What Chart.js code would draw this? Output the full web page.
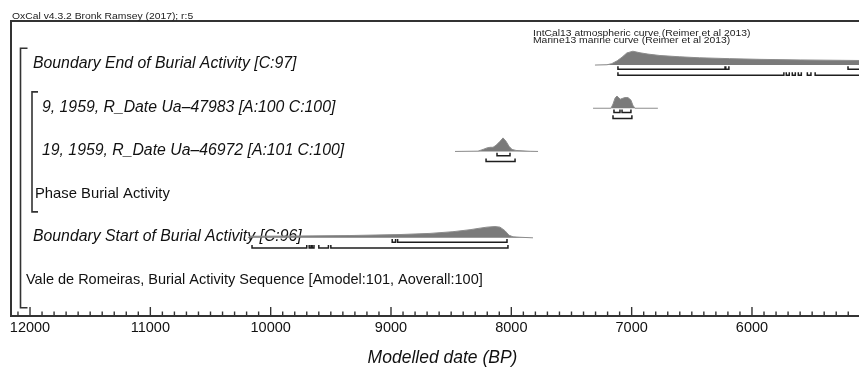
<!DOCTYPE html>
<html>
<head>
<meta charset="utf-8">
<script src="https://cdn.jsdelivr.net/npm/chart.js@4.4.1/dist/chart.umd.min.js"></script>
<style>
  html, body { margin: 0; padding: 0; background: #fff; overflow: hidden; }
</style>
</head>
<body>
<!-- the plot runs on past the right edge of the window -->
<canvas id="plot" width="874" height="378"></canvas>
<script>
"use strict";

// ---- model rows, top to bottom ----
const ROW_LABELS = [
  "Boundary End of Burial Activity [C:97]",
  "9, 1959, R_Date Ua\u201347983 [A:100 C:100]",
  "19, 1959, R_Date Ua\u201346972 [A:101 C:100]",
  "Phase Burial Activity",
  "Boundary Start of Burial Activity [C:96]",
  "Vale de Romeiras, Burial Activity Sequence [Amodel:101, Aoverall:100]",
];
const ROW_KINDS = ["boundary", "date", "date", "phase", "boundary", "sequence"];

const TICK_LABELS = [12000, 11000, 10000, 9000, 8000, 7000, 6000];

// posterior densities (cal BP, relative probability)
const END_YEARS = [7305, 7205, 7165, 7120, 7080, 7040, 6990, 6930, 6865, 6765, 6600, 6435, 6185, 5935, 5600, 5110, 4770];
const END_PROB = [0, 0.02, 0.1, 0.3, 0.55, 0.85, 0.97, 0.86, 0.77, 0.67, 0.58, 0.51, 0.45, 0.40, 0.36, 0.32, 0.31];

const UA47983_YEARS = [7321, 7172, 7155, 7138, 7122, 7105, 7093, 7080, 7056, 7031, 7006, 6990, 6973, 6782];
const UA47983_PROB = [0, 0, 0.29, 0.71, 0.86, 0.71, 0.64, 0.68, 0.75, 0.75, 0.57, 0.21, 0, 0];

const UA46972_YEARS = [8468, 8277, 8235, 8202, 8177, 8152, 8127, 8094, 8069, 8044, 8019, 7994, 7961, 7911, 7844, 7778];
const UA46972_PROB = [0, 0.02, 0.14, 0.25, 0.29, 0.29, 0.43, 0.71, 0.95, 0.71, 0.36, 0.14, 0.07, 0.04, 0.01, 0];

const START_YEARS = [10190, 10172, 9756, 9341, 8925, 8676, 8485, 8343, 8260, 8202, 8136, 8094, 8053, 8019, 7986, 7928, 7820];
const START_PROB = [0, 0.11, 0.13, 0.16, 0.23, 0.31, 0.43, 0.57, 0.68, 0.75, 0.79, 0.75, 0.5, 0.18, 0.07, 0.04, 0];

// highest posterior density ranges [from, to] in cal BP
const END_R68 = [[7114, 6224], [6218, 6192], [5202, 4700]];
const END_R95 = [[7114, 5735], [5715, 5690], [5665, 5640], [5615, 5590], [5540, 5510], [5475, 4700]];
const UA47983_R68 = [[7147, 7097], [7080, 7006]];
const UA47983_R95 = [[7155, 6998]];
const UA46972_R68 = [[8119, 8011]];
const UA46972_R95 = [[8210, 7969]];
const START_R68 = [[8990, 8962], [8945, 8036]];
const START_R95 = [[10155, 9700], [9680, 9665], [9655, 9640], [9600, 9520], [9500, 8028]];

const DISTS = [
  { row: 0, years: END_YEARS, prob: END_PROB, r68: END_R68, r95: END_R95 },
  { row: 1, years: UA47983_YEARS, prob: UA47983_PROB, r68: UA47983_R68, r95: UA47983_R95 },
  { row: 2, years: UA46972_YEARS, prob: UA46972_PROB, r68: UA46972_R68, r95: UA46972_R95 },
  { row: 4, years: START_YEARS, prob: START_PROB, r68: START_R68, r95: START_R95 },
];

// ---- drawing style ----
const FONT = "'Liberation Sans', Arial, sans-serif";
const PEAK = 0.33;            // row units taken by a density of 1
const KIND_STYLE = {
  boundary: { indent: 22, italic: true, size: 15.8 },
  date: { indent: 31, italic: true, size: 15.8 },
  phase: { indent: 24, italic: false, size: 14.8 },
  sequence: { indent: 15, italic: false, size: 14.5 },
};

function densityPoints(d) {
  return d.years.map((y, i) => ({ x: y, y: d.row - d.prob[i] * PEAK }));
}

// range lines with small upturned ends, split by nulls
function rangePoints(ranges, level) {
  const pts = [];
  const tick = 0.07;
  for (const [a, b] of ranges) {
    pts.push({ x: a, y: level - tick }, { x: a, y: level }, { x: b, y: level }, { x: b, y: level - tick });
    pts.push({ x: b, y: null });
  }
  return pts;
}

const datasets = [];
for (const d of DISTS) {
  datasets.push({
    data: densityPoints(d),
    borderColor: "#8c8c8c",
    borderWidth: 1,
    backgroundColor: "#7a7a7a",
    fill: { value: d.row },
    pointRadius: 0,
  });
  datasets.push({
    data: rangePoints(d.r68, d.row + 0.1),
    borderColor: "#1e1e1e",
    borderWidth: 1.5,
    fill: false,
    pointRadius: 0,
  });
  datasets.push({
    data: rangePoints(d.r95, d.row + 0.235),
    borderColor: "#1e1e1e",
    borderWidth: 1.5,
    fill: false,
    pointRadius: 0,
  });
}

function smallText(ctx, text, x, y) {
  ctx.save();
  ctx.font = "9px " + FONT;
  ctx.translate(x, y);
  ctx.scale(1.15, 1);
  ctx.fillText(text, 0, 0);
  ctx.restore();
}

const oxcalDecor = {
  id: "oxcalDecor",
  beforeDatasetsDraw(chart) {
    const { ctx, chartArea: ca, scales } = chart;
    const ys = scales.y;
    ctx.save();
    ctx.fillStyle = "#111";
    ctx.textBaseline = "middle";
    ROW_LABELS.forEach((label, i) => {
      const st = KIND_STYLE[ROW_KINDS[i]];
      ctx.font = (st.italic ? "italic " : "") + st.size + "px " + FONT;
      ctx.fillText(label, ca.left + st.indent, ys.getPixelForValue(i) - 1);
    });

    // sequence and phase brackets
    ctx.strokeStyle = "#333";
    ctx.lineWidth = 1.6;
    const bracket = (x, top, bottom, w) => {
      ctx.beginPath();
      ctx.moveTo(x + w, top);
      ctx.lineTo(x, top);
      ctx.lineTo(x, bottom);
      ctx.lineTo(x + w, bottom);
      ctx.stroke();
    };
    bracket(ca.left + 9.5, ys.getPixelForValue(-0.39), ys.getPixelForValue(5.62), 7);
    bracket(ca.left + 21, ys.getPixelForValue(0.62), ys.getPixelForValue(3.4), 6);
    ctx.restore();
  },
  afterDraw(chart) {
    const { ctx, chartArea: ca, scales } = chart;
    const xs = scales.x;
    ctx.save();
    // frame: top and left edges, the axis line is the bottom one
    ctx.strokeStyle = "#333";
    ctx.lineWidth = 2;
    ctx.beginPath();
    ctx.moveTo(ca.right + 2, ca.top);
    ctx.lineTo(ca.left, ca.top);
    ctx.lineTo(ca.left, ca.bottom);
    ctx.stroke();

    // ticks pointing into the plot, every century, longer at millennia
    ctx.lineWidth = 1.4;
    for (const t of xs.ticks) {
      if (t.value % 100 !== 0) continue;
      const px = xs.getPixelForValue(t.value);
      const len = t.value % 1000 === 0 ? 9 : 4.5;
      ctx.beginPath();
      ctx.moveTo(px, ca.bottom);
      ctx.lineTo(px, ca.bottom - len);
      ctx.stroke();
    }

    ctx.fillStyle = "#222";
    ctx.textBaseline = "alphabetic";
    smallText(ctx, "OxCal v4.3.2 Bronk Ramsey (2017); r:5", ca.left + 1, ca.top - 2);
    smallText(ctx, "IntCal13 atmospheric curve (Reimer et al 2013)", 533, 36);
    smallText(ctx, "Marine13 marine curve (Reimer et al 2013)", 533, 42.5);
    ctx.restore();
  },
};

const tickValues = [];
for (let v = 5000; v <= 12100; v += 100) tickValues.push(v);

new Chart(document.getElementById("plot"), {
  type: "line",
  data: { datasets },
  options: {
    responsive: false,
    animation: false,
    events: [],
    layout: { padding: { left: 11, top: 21, right: 0, bottom: 0 } },
    plugins: { legend: { display: false }, tooltip: { enabled: false } },
    elements: { line: { tension: 0 } },
    scales: {
      x: {
        type: "linear",
        reverse: true,
        min: 4986,
        max: 12158,
        afterBuildTicks: (s) => { s.ticks = tickValues.map((v) => ({ value: v })); },
        afterFit: (s) => { s.height = 62; },
        grid: { display: false, drawTicks: false },
        border: { display: true, color: "#333", width: 2 },
        ticks: {
          autoSkip: false,
          maxRotation: 0,
          padding: 3,
          color: "#111",
          font: { family: FONT, size: 14.5 },
          callback: (v) => (TICK_LABELS.includes(v) ? String(v) : ""),
        },
        title: {
          display: true,
          text: "Modelled date (BP)",
          color: "#111",
          font: { family: FONT, size: 17.5, style: "italic" },
          padding: { top: 0, bottom: 9 },
        },
      },
      y: { type: "linear", display: false, reverse: true, min: -1.02, max: 5.81 },
    },
  },
  plugins: [oxcalDecor],
});
</script>
</body>
</html>
